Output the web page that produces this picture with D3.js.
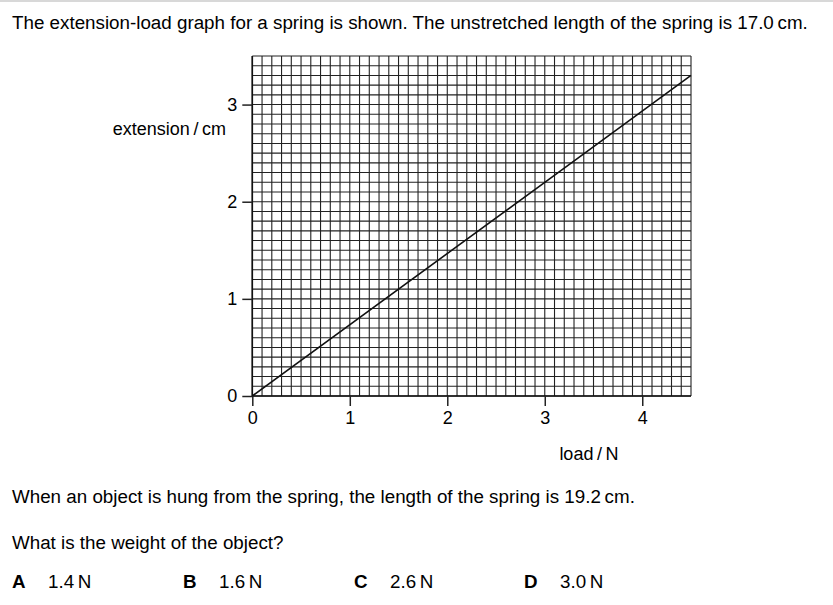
<!DOCTYPE html>
<html><head><meta charset="utf-8">
<script src="https://cdn.jsdelivr.net/npm/d3@7"></script>
<style>
body{margin:0;background:#fff;}
svg{display:block;font-family:"Liberation Sans",Arial,sans-serif;}
</style></head>
<body><svg id="c" width="833" height="605"></svg>
<script>
// data
const loadN = [0, 3, 4.5];
const extensionCm = [0, 2.2, 3.3];
const xTicks = [0, 1, 2, 3, 4];
const yTicks = [0, 1, 2, 3];
const xDomain = [0, 4.5];
const yDomain = [0, 3.5];
const gridStep = 0.1;
const options = [["A","1.4\u2009N"],["B","1.6\u2009N"],["C","2.6\u2009N"],["D","3.0\u2009N"]];

(function(){
const svg = d3.select("#c");
const pLeft = 252.3, pRight = 691, pTop = 56, pBottom = 396;
const x = d3.scaleLinear().domain(xDomain).range([pLeft, pRight]);
const y = d3.scaleLinear().domain(yDomain).range([pBottom, pTop]);
const FS = 18.8;

svg.append("rect").attr("x",0).attr("y",0).attr("width",833).attr("height",2).attr("fill","#d8d8d8");

svg.append("text").attr("x",12).attr("y",29).attr("font-size",FS).attr("fill","#000")
  .text("The extension-load graph for a spring is shown. The unstretched length of the spring is 17.0\u2009cm.");

const g = svg.append("g");
const nx = Math.round((xDomain[1]-xDomain[0])/gridStep);
const ny = Math.round((yDomain[1]-yDomain[0])/gridStep);
const xs = d3.range(nx+1).map(i => xDomain[0] + i*gridStep);
const ys = d3.range(ny+1).map(i => yDomain[0] + i*gridStep);
g.selectAll(".vx").data(xs).join("line")
  .attr("x1", d=>x(d)).attr("x2", d=>x(d)).attr("y1", y(yDomain[0])).attr("y2", y(yDomain[1]))
  .attr("stroke","#222").attr("stroke-width",1.1);
g.selectAll(".hy").data(ys).join("line")
  .attr("y1", d=>y(d)).attr("y2", d=>y(d)).attr("x1", x(xDomain[0])).attr("x2", x(xDomain[1]))
  .attr("stroke","#222").attr("stroke-width",1.1);
g.append("line").attr("x1",x(0)).attr("x2",x(0)).attr("y1",y(0)).attr("y2",y(yDomain[1])).attr("stroke","#111").attr("stroke-width",1.6);
g.append("line").attr("x1",x(0)).attr("x2",x(xDomain[1])).attr("y1",y(0)).attr("y2",y(0)).attr("stroke","#111").attr("stroke-width",1.6);

const ax = svg.append("g").attr("transform",`translate(0,${pBottom})`)
  .call(d3.axisBottom(x).tickValues(xTicks).tickSize(10).tickPadding(5).tickFormat(d3.format("d")));
const ay = svg.append("g").attr("transform",`translate(${pLeft},0)`)
  .call(d3.axisLeft(y).tickValues(yTicks).tickSize(10).tickPadding(5).tickFormat(d3.format("d")));
[ax, ay].forEach(a => {
  a.select(".domain").remove();
  a.selectAll(".tick line").attr("stroke","#222").attr("stroke-width",1.5);
  a.selectAll(".tick text").attr("font-size",18).attr("fill","#000").attr("font-family","Liberation Sans, Arial, sans-serif");
});

svg.append("path").datum(loadN.map((d,i)=>[d, extensionCm[i]]))
  .attr("d", d3.line().x(d=>x(d[0])).y(d=>y(d[1])))
  .attr("fill","none").attr("stroke","#111").attr("stroke-width",1.6);

svg.append("text").attr("x",226).attr("y",135).attr("text-anchor","end").attr("font-size",18).text("extension\u2009/\u2009cm");
svg.append("text").attr("x",589).attr("y",460).attr("text-anchor","middle").attr("font-size",18).text("load\u2009/\u2009N");

svg.append("text").attr("x",12).attr("y",503).attr("font-size",FS).text("When an object is hung from the spring, the length of the spring is 19.2\u2009cm.");
svg.append("text").attr("x",12).attr("y",549).attr("font-size",FS).text("What is the weight of the object?");
const optX = [12, 183, 354, 524];
options.forEach((o,i)=>{
  svg.append("text").attr("x",optX[i]).attr("y",588).attr("font-size",FS).attr("font-weight","bold").text(o[0]);
  svg.append("text").attr("x",optX[i]+36).attr("y",588).attr("font-size",FS).text(o[1]);
});
})();
</script></body></html>
